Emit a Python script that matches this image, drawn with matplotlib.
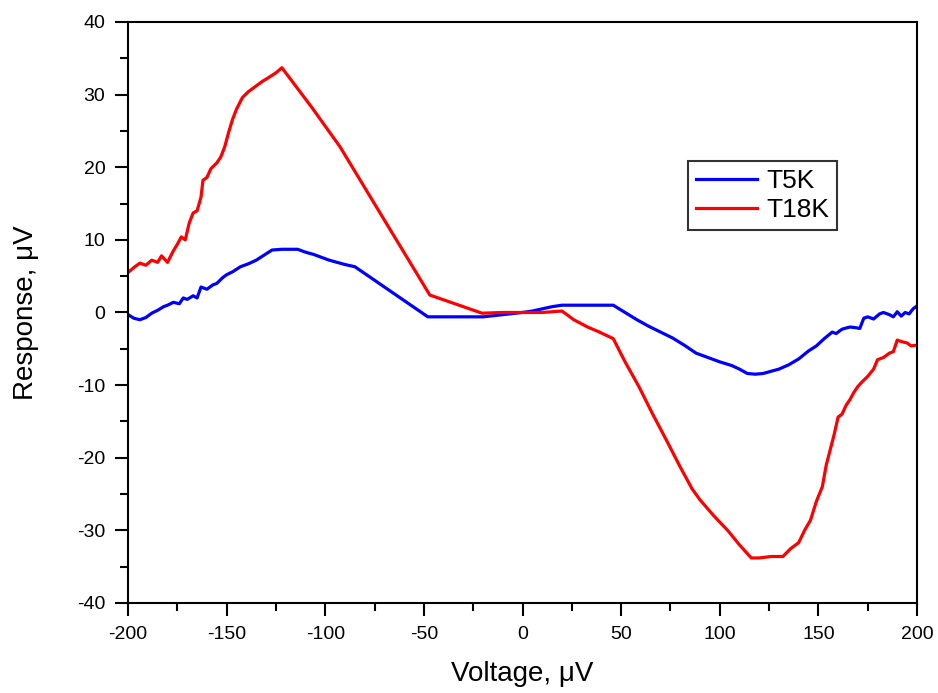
import matplotlib
matplotlib.use("Agg")
import matplotlib.pyplot as plt
from matplotlib.ticker import MultipleLocator

plt.rcParams['font.family'] = ['Liberation Sans', 'DejaVu Sans']
plt.rcParams['axes.unicode_minus'] = False

# T5K (blue)
v_t5 = [-200, -197, -194, -191, -188, -185, -182, -180, -177, -174, -172, -170, -167, -165, -163, -160,
        -157, -155, -152, -150, -147, -143, -139, -135, -131, -127, -122, -118, -114, -110, -106, -102,
        -98, -94, -90, -85, -48, -20, -10, 0, 5, 10, 15, 20, 30, 40, 46,
        52, 58, 64, 70, 76, 82, 88, 94, 100, 106, 110, 114, 118, 122, 126, 130, 135, 140, 145, 149, 153,
        157, 159, 162, 166, 169, 171, 173, 175, 178, 181, 183, 186, 188, 190, 192, 194, 196, 198, 200]
r_t5 = [-0.3, -0.8, -1.0, -0.7, -0.1, 0.3, 0.8, 1.0, 1.4, 1.2, 2.0, 1.8, 2.3, 2.0, 3.5, 3.2,
        3.8, 4.0, 4.8, 5.2, 5.6, 6.3, 6.7, 7.2, 7.9, 8.6, 8.7, 8.7, 8.7, 8.3, 8.0, 7.6,
        7.2, 6.9, 6.6, 6.3, -0.6, -0.6, -0.3, 0.0, 0.2, 0.5, 0.8, 1.0, 1.0, 1.0, 1.0,
        0.0, -1.0, -1.9, -2.7, -3.5, -4.5, -5.6, -6.2, -6.8, -7.3, -7.8, -8.4, -8.5, -8.4, -8.1, -7.8, -7.2, -6.4, -5.3, -4.6, -3.6,
        -2.7, -2.9, -2.3, -2.0, -2.1, -2.2, -0.8, -0.6, -0.9, -0.2, 0.0, -0.3, -0.6, 0.1, -0.5, 0.0, -0.2, 0.5, 0.9]

# T18K (red)
v_t18 = [-200, -197, -194, -191, -188, -185, -183, -180, -177, -175, -173, -171, -169, -167, -165, -163,
         -162, -160, -158, -155, -153, -151, -149, -147, -145, -142, -139, -136, -132, -129, -125, -122,
         -107, -92.5, -74, -47, -20.5, -10, 0, 10, 20,
         26, 33, 39, 46, 52, 59, 66, 73, 80, 86, 90, 97, 104, 110, 116, 120, 126, 132, 136, 140, 143,
         146, 149, 152, 154, 156, 158, 160, 162, 164, 166, 168, 170, 172, 175, 178, 180, 183, 186, 188,
         190, 192, 195, 197, 200]
r_t18 = [5.5, 6.2, 6.8, 6.5, 7.2, 6.9, 7.8, 6.9, 8.5, 9.4, 10.4, 10.0, 12.3, 13.7, 14.0, 15.9,
         18.2, 18.6, 19.8, 20.6, 21.4, 22.8, 24.8, 26.6, 28.0, 29.6, 30.4, 31.0, 31.8, 32.3, 33.0, 33.7,
         28.3, 22.8, 14.5, 2.4, -0.1, 0.0, 0.0, 0.0, 0.2,
         -1.0, -2.0, -2.7, -3.6, -6.8, -10.2, -14.0, -17.6, -21.3, -24.3, -25.8, -28.0, -30.0, -32.0, -33.8, -33.8, -33.6, -33.6, -32.5, -31.7, -30.0,
         -28.6, -26.0, -24.0, -21.0, -18.9, -16.8, -14.4, -14.0, -12.8, -12.0, -11.0, -10.2, -9.6, -8.8, -7.8, -6.5, -6.2, -5.6, -5.4,
         -3.8, -4.0, -4.2, -4.6, -4.5]

fig = plt.figure(figsize=(9.38, 6.93), dpi=100)
ax = fig.add_axes([0.1365, 0.1299, 0.8411, 0.8384])

ax.plot(v_t5, r_t5, color='#0000ff', lw=2.3, label='T5K')
ax.plot(v_t18, r_t18, color='#ff0000', lw=2.3, label='T18K')

ax.set_xlim(-200, 200)
ax.set_ylim(-40, 40)
ax.xaxis.set_major_locator(MultipleLocator(50))
ax.xaxis.set_minor_locator(MultipleLocator(25))
ax.yaxis.set_major_locator(MultipleLocator(10))
ax.yaxis.set_minor_locator(MultipleLocator(5))
ax.tick_params(which='both', direction='out', top=False, right=False, width=1.5,
               labelsize=14, pad=7)
ax.tick_params(which='major', length=9.4)
ax.tick_params(which='minor', length=5.5)
for s in ax.spines.values():
    s.set_linewidth(1.5)

ax.set_xlabel('Voltage, μV', fontsize=20, labelpad=13)
ax.set_ylabel('Response, μV', fontsize=20, labelpad=27)

leg = ax.legend(loc='upper left', bbox_to_anchor=(0.7098, 0.7608), fontsize=19, frameon=True,
                fancybox=False, edgecolor='black', handlelength=2.3, borderpad=0.3,
                labelspacing=0.2, handletextpad=0.35, borderaxespad=0, handleheight=0.6)
leg.get_frame().set_linewidth(1.5)

fig.savefig('out.png', dpi=100)
